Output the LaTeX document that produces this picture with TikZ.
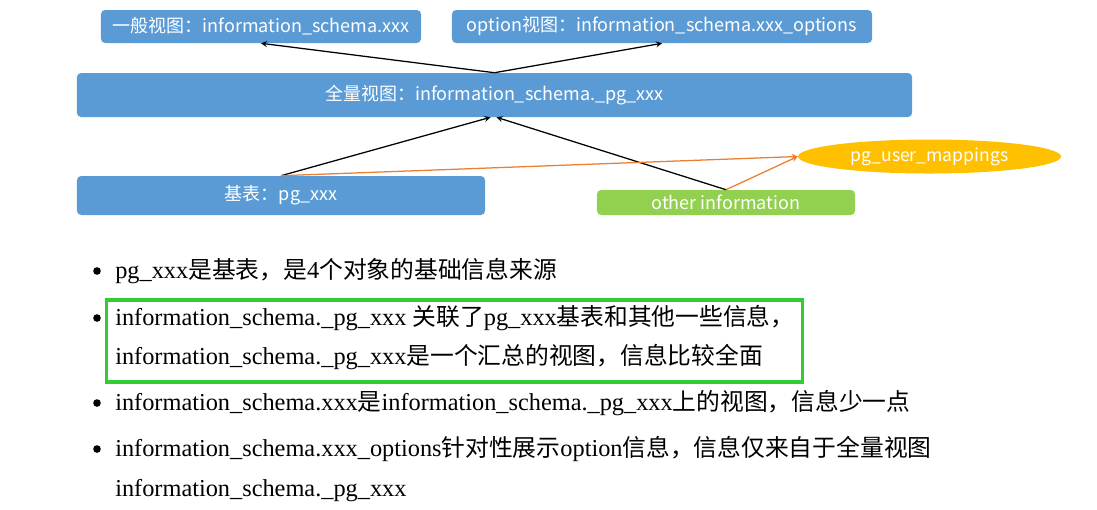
\documentclass[tikz,border=0pt]{standalone}
\usepackage{fontspec}
\setmainfont{Liberation Serif}
\newfontfamily\cjk{Noto Sans CJK SC}
\usepackage{tikz}
\usetikzlibrary{shapes.geometric, arrows, positioning}

\definecolor{viewblue}{HTML}{5B9BD5}
\definecolor{othergreen}{HTML}{92D050}
\definecolor{mapyellow}{HTML}{FFC000}
\definecolor{linkorange}{HTML}{ED7D31}
\definecolor{framegreen}{HTML}{33CC33}

\newcommand{\zh}[1]{{\cjk\fontsize{16.9}{20}\selectfont #1}}

\begin{document}
\begin{tikzpicture}[
    x=0.025cm, y=-0.025cm,
    view/.style={rectangle, rounded corners=3pt, fill=viewblue, text=white,
      minimum height=0.825cm, inner sep=0pt, font=\cjk\fontsize{12.8}{15}\selectfont},
    infobox/.style={view, fill=othergreen, minimum height=0.625cm},
    mapoval/.style={ellipse, fill=mapyellow, text=white, inner sep=0pt,
      minimum width=6.575cm, minimum height=0.85cm, font=\cjk\fontsize{12.5}{15}\selectfont},
    arrow/.style={line width=0.9pt,->,>=stealth},
    link/.style={arrow, draw=linkorange},
    item/.style={anchor=base west, inner sep=0pt, font=\fontsize{17.3}{20}\selectfont},
    dot/.style={circle, fill=black, inner sep=0pt, minimum size=0.19cm},
    hlbox/.style={rectangle, draw=framegreen, line width=2.2pt,
      minimum width=17.375cm, minimum height=2.05cm}
]
\useasboundingbox (0,0) rectangle (1097,509);

% views
\node[view, minimum width=8cm] (general) at (261,26.5) {一般视图：information\_schema.xxx};
\node[view, minimum width=10.5cm] (option) at (662,26.5) {option视图：information\_schema.xxx\_options};
\node[view, minimum width=20.875cm, minimum height=1.1cm] (full) at (494.5,95) {全量视图：information\_schema.\_pg\_xxx};
\node[view, minimum width=10.2cm, minimum height=0.975cm] (base) at (281,195.5) {基表：pg\_xxx};
\node[infobox, minimum width=6.45cm] (other) at (726,202.5) {other information};
\node[mapoval] (mapping) at (929.5,156.5) {pg\_user\_mappings};

\draw[arrow] (full.north) -- (general.south);
\draw[arrow] (full.north) -- (option.south);
\draw[arrow] (base.north) -- ([xshift=-0.1cm]full.south);
\draw[arrow] (other.north) -- ([xshift=0.05cm]full.south);
\draw[link] (base.north) -- (mapping.west);
\draw[link] (other.north) -- (mapping.west);

% notes
\node[dot] (d1) at (97,271) {};
\node[dot] (d2) at (97,318) {};
\node[dot] (d3) at (97,403) {};
\node[dot] (d4) at (97,449) {};
\node[hlbox] (hl) at (454.5,341) {};
\node[item] (l1) at (115,278.5) {pg\_xxx\zh{是基表，是}4\zh{个对象的基础信息来源}};
\node[item] (l2) at (115,325.5) {information\_schema.\_pg\_xxx \zh{关联了}pg\_xxx\zh{基表和其他一些信息，}};
\node[item] (l3) at (115,364.5) {information\_schema.\_pg\_xxx\zh{是一个汇总的视图，信息比较全面}};
\node[item] (l4) at (115,410.5) {information\_schema.xxx\zh{是}information\_schema.\_pg\_xxx\zh{上的视图，信息少一点}};
\node[item] (l5) at (115,456.5) {information\_schema.xxx\_options\zh{针对性展示}option\zh{信息，信息仅来自于全量视图}};
\node[item] (l6) at (115,496.5) {information\_schema.\_pg\_xxx};
\end{tikzpicture}
\end{document}
